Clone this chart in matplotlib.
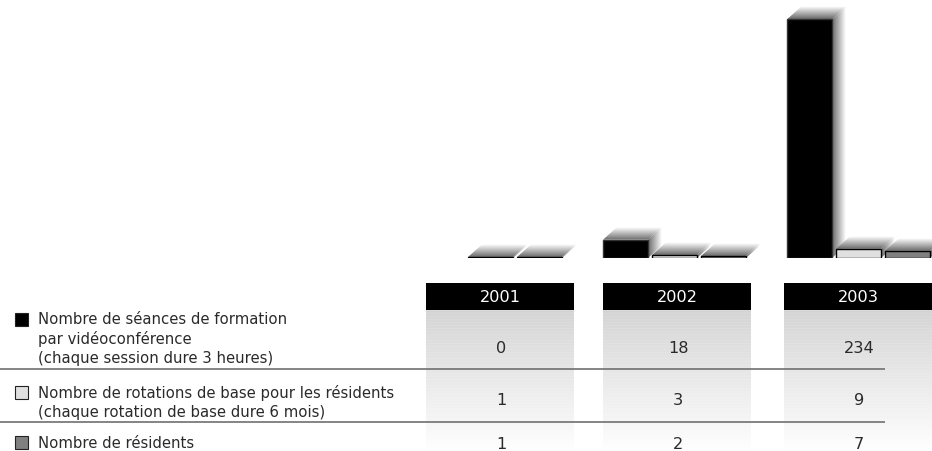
import numpy as np
import matplotlib
matplotlib.use("Agg")
import matplotlib.pyplot as plt
from matplotlib.patches import Polygon, Rectangle

# ---------------- data ----------------
years = ["2001", "2002", "2003"]
series_labels = [
    "Nombre de séances de formation\npar vidéoconférence\n(chaque session dure 3 heures)",
    "Nombre de rotations de base pour les résidents\n(chaque rotation de base dure 6 mois)",
    "Nombre de résidents",
]
seances = [0, 18, 234]
rotations = [1, 3, 9]
residents = [1, 2, 7]

# ---------------- style / layout ----------------
W, H = 932, 452
FONT = ["DejaVu Sans"]
FS_LAB = 10.7
FS_NUM = 11.6
TXT = "#2a2a2a"
bar_faces = ["#000000", "#e0e0e0", "#808080"]
bar_edges = ["#333333", "#000000", "#000000"]

fig = plt.figure(figsize=(W / 100, H / 100), dpi=100)

base_px = 259
px_per_unit = 1.02
ax = fig.add_axes([0, 1 - base_px / H, 1, base_px / H])
ax.axis("off")

group_x0, group_step, bar_step, bar_w = 419, 184, 49, 45
dx = 14
dy = 12.5 / px_per_unit
cmap = plt.get_cmap("gray")

all_series = [seances, rotations, residents]
for j, vals in enumerate(all_series):
    xs = [group_x0 + i * group_step + j * bar_step for i in range(len(years))]
    # shadows (pseudo 3D faces)
    for x, v in zip(xs, vals):
        if v <= 0:
            continue
        r = x + bar_w
        top = Polygon([(x, v), (r, v), (r + dx, v + dy), (x + dx, v + dy)],
                      closed=True, transform=ax.transData, facecolor="none", edgecolor="none")
        side = Polygon([(r, v), (r + dx, v + dy), (r + dx, dy), (r, 0)],
                       closed=True, transform=ax.transData, facecolor="none", edgecolor="none")
        gv = np.linspace(0.42, 1.0, 40).reshape(-1, 1)
        im1 = ax.imshow(gv, cmap=cmap, vmin=0, vmax=1, origin="lower",
                        extent=(x, r + dx, v, v + dy), aspect="auto",
                        interpolation="bilinear", zorder=1)
        im1.set_clip_path(top)
        gh = np.linspace(0.42, 1.0, 40).reshape(1, -1)
        im2 = ax.imshow(gh, cmap=cmap, vmin=0, vmax=1, origin="lower",
                        extent=(r, r + dx, 0, v + dy), aspect="auto",
                        interpolation="bilinear", zorder=1)
        im2.set_clip_path(side)
    edges = [bar_edges[j] if v > 0 else "none" for v in vals]
    ax.bar(xs, vals, width=bar_w, align="edge", color=bar_faces[j],
           edgecolor=edges, linewidth=1.0, zorder=3)

ax.set_xlim(0, W)
ax.set_ylim(0, base_px / px_per_unit)

# ---------------- table ----------------
axt = fig.add_axes([0, 0, 1, 1], zorder=-1)
axt.axis("off")

col_left = [426, 603, 784]
col_w = 148
head_top, head_bot = 284, 311
for cl, yr in zip(col_left, years):
    axt.add_patch(Rectangle((cl, head_top), col_w, head_bot - head_top,
                            facecolor="black", edgecolor="none", zorder=2))
    axt.text(cl + col_w / 2, 302.5, yr, color="white", fontsize=FS_NUM, family=FONT,
             ha="center", va="baseline", zorder=3)
    n = H - head_bot
    g = np.linspace(0.83, 0.995, n)
    stripes = np.where((np.arange(n) % 3) == 0, 0.014, 0.0) * (1 - np.arange(n) / n)
    g = np.clip(g + stripes, 0, 1).reshape(-1, 1)
    axt.imshow(g, cmap=cmap, vmin=0, vmax=1, origin="upper",
               extent=(cl, cl + col_w, H, head_bot), aspect="auto",
               interpolation="nearest", zorder=1)

axt.set_xlim(0, W)
axt.set_ylim(H, 0)

# separator lines
for yline in [370, 423]:
    axt.plot([0, 885], [yline, yline], color="#707070", lw=1.2, zorder=2,
             solid_capstyle="butt")

# legend squares + row labels
label_baselines = [[324.5, 344, 363], [398, 417.5], [448]]
square_centers = [320, 393, 443]
sq_faces = ["#000000", "#e0e0e0", "#808080"]
for k, lab in enumerate(series_labels):
    axt.add_patch(Rectangle((15, square_centers[k] - 6.5), 13, 13,
                            facecolor=sq_faces[k], edgecolor="#222222",
                            linewidth=0.8, zorder=3))
    for line, yb in zip(lab.split("\n"), label_baselines[k]):
        axt.text(38, yb, line, color=TXT, fontsize=FS_LAB, family=FONT,
                 ha="left", va="baseline", zorder=3)

# values
value_baselines = [353, 405, 449]
for k, vals in enumerate(all_series):
    for cl, v in zip(col_left, vals):
        axt.text(cl + col_w / 2 + 1, value_baselines[k], str(v), color=TXT,
                 fontsize=FS_NUM, family=FONT, ha="center", va="baseline", zorder=3)

fig.savefig("out.png", dpi=100, facecolor="white")
